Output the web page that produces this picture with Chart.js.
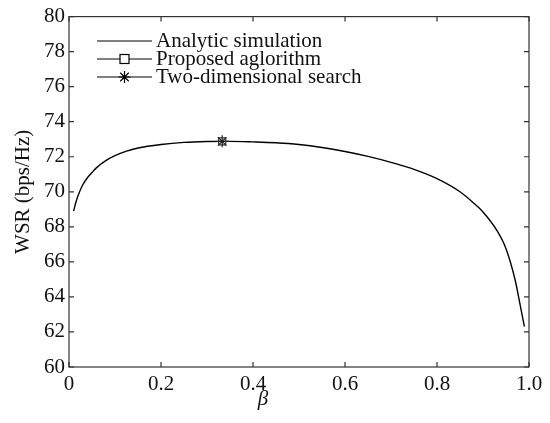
<!DOCTYPE html>
<html><head><meta charset="utf-8">
<script src="https://cdn.jsdelivr.net/npm/chart.js@4"></script>
<style>html,body{margin:0;padding:0;background:#fff}#wrap{width:550px;height:423px}</style>
</head><body><div id="wrap"><canvas id="c" width="550" height="423"></canvas></div>
<script>
const betaValues = [0.01,0.015,0.02,0.03,0.04,0.05,0.06,0.08,0.10,0.125,0.15,0.20,0.25,0.30,0.333,0.35,0.40,0.45,0.50,0.55,0.60,0.65,0.70,0.75,0.80,0.85,0.88,0.90,0.93,0.95,0.97,0.98,0.99];
const wsrValues  = [68.9,69.4,69.8,70.4,70.8,71.1,71.38,71.78,72.06,72.32,72.5,72.7,72.82,72.87,72.88,72.88,72.85,72.8,72.7,72.53,72.3,72.02,71.68,71.28,70.75,70.0,69.35,68.85,67.8,66.75,64.95,63.65,62.3];
const proposedPoint = [{x:0.333, y:72.88}];
const searchPoint = [{x:0.333, y:72.88}];
const seriesNames = ["Analytic simulation","Proposed aglorithm","Two-dimensional search"];
const xTicks = [0,0.2,0.4,0.6,0.8,1.0];
const yTicks = [60,62,64,66,68,70,72,74,76,78,80];
const FONT = "'Liberation Serif','Times New Roman',serif";

const frame = {
  id:'frame',
  afterDraw(chart){
    const {ctx, chartArea:a, scales:{x,y}} = chart;
    ctx.save();
    ctx.strokeStyle='#333'; ctx.lineWidth=1.2;
    ctx.strokeRect(a.left,a.top,a.right-a.left,a.bottom-a.top);
    const L=5;
    ctx.beginPath();
    xTicks.forEach(v=>{const p=x.getPixelForValue(v);ctx.moveTo(p,a.bottom);ctx.lineTo(p,a.bottom-L);ctx.moveTo(p,a.top);ctx.lineTo(p,a.top+L);});
    yTicks.forEach(v=>{const p=y.getPixelForValue(v);ctx.moveTo(a.left,p);ctx.lineTo(a.left+L,p);ctx.moveTo(a.right,p);ctx.lineTo(a.right-L,p);});
    ctx.stroke();
    // x title
    ctx.fillStyle='#111'; ctx.font="italic 21px "+FONT; ctx.textAlign='center'; ctx.textBaseline='middle';
    ctx.fillText('\u03B2', 263, 399);
    // legend
    ctx.font="21px "+FONT; ctx.textAlign='left';
    const x0=97,x1=152,tx=156,rows=[41,59,77];
    ctx.strokeStyle='#000'; ctx.lineWidth=1.2;
    rows.forEach((ry,i)=>{
      ctx.beginPath();ctx.moveTo(x0,ry);ctx.lineTo(x1,ry);ctx.stroke();
      ctx.fillStyle='#111';ctx.fillText(seriesNames[i],tx,ry);
    });
    const cx=(x0+x1)/2;
    ctx.fillStyle='#fff';ctx.fillRect(cx-4.5,rows[1]-4.5,9,9);ctx.strokeRect(cx-4.5,rows[1]-4.5,9,9);
    ctx.beginPath();
    for(let k=0;k<4;k++){const t=k*Math.PI/4, r=6;ctx.moveTo(cx-r*Math.cos(t),rows[2]-r*Math.sin(t));ctx.lineTo(cx+r*Math.cos(t),rows[2]+r*Math.sin(t));}
    ctx.stroke();
    ctx.restore();
  }
};

new Chart(document.getElementById('c'),{
  type:'scatter',
  data:{datasets:[
    {label:seriesNames[0],data:betaValues.map((b,i)=>({x:b,y:wsrValues[i]})),showLine:true,borderColor:'#000',borderWidth:1.4,pointRadius:0,cubicInterpolationMode:'monotone',order:3},
    {label:seriesNames[1],data:proposedPoint,pointStyle:'rect',pointRadius:5,borderColor:'#333',backgroundColor:'rgba(255,255,255,0)',borderWidth:1.2,order:2},
    {label:seriesNames[2],data:searchPoint,pointStyle:'star',pointRadius:6,borderColor:'#222',borderWidth:1.2,order:1}
  ]},
  options:{
    responsive:false,animation:false,
    layout:{padding:{top:14,right:21,left:0,bottom:0}},
    plugins:{legend:{display:false},tooltip:{enabled:false}},
    scales:{
      x:{type:'linear',min:0,max:1,
        afterFit(s){s.height=56;},
        afterBuildTicks(s){s.ticks=xTicks.map(v=>({value:v}));},
        grid:{display:false,drawTicks:false},border:{display:false},
        ticks:{padding:5,color:'#111',font:{family:FONT,size:21},maxRotation:0,callback:v=>v===0?'0':(v===1?'1.0':String(v))}},
      y:{min:60,max:80,
        afterFit(s){s.width=69;},
        afterBuildTicks(s){s.ticks=yTicks.map(v=>({value:v}));},
        grid:{display:false,drawTicks:false},border:{display:false},
        title:{display:true,text:'WSR (bps/Hz)',color:'#111',font:{family:FONT,size:21},padding:{top:11,bottom:0}},
        ticks:{padding:4,color:'#111',font:{family:FONT,size:21}}}
    }
  },
  plugins:[frame]
});
</script></body></html>
